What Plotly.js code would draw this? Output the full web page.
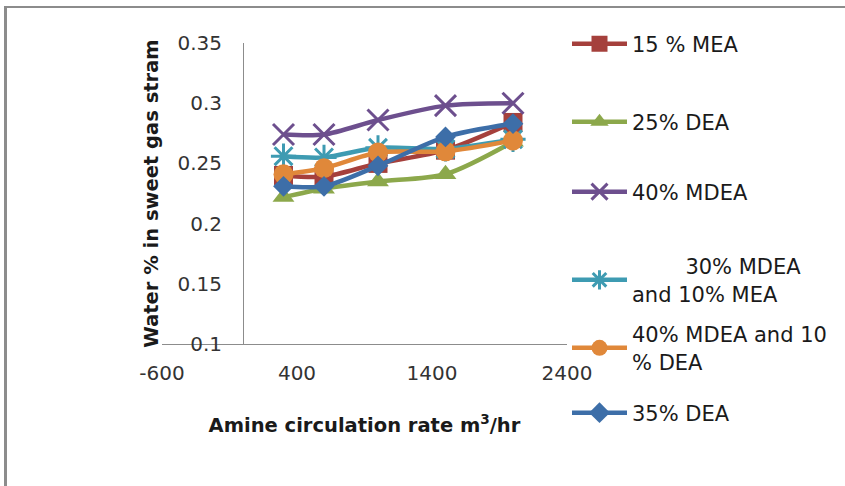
<!DOCTYPE html>
<html>
<head>
<meta charset="utf-8">
<script src="https://cdn.plot.ly/plotly-3.0.1.min.js"></script>
<style>
  html, body { margin: 0; padding: 0; background: #fff; }
  #wrap { position: relative; width: 845px; height: 486px; }
  #chart { width: 845px; height: 486px; }
  #frame { position: absolute; left: 4px; top: 6px; right: 0; bottom: 0;
           border-left: 3px solid #8c8c8c; border-top: 2px solid #8c8c8c;
           pointer-events: none; }
</style>
</head>
<body>
<div id="wrap"><div id="chart"></div><div id="frame"></div></div>
<script>
// Data
const circulationRate = [300, 600, 1000, 1500, 2000];
const mea15        = [0.240, 0.239, 0.250, 0.261, 0.284];
const dea25        = [0.222, 0.229, 0.235, 0.241, 0.268];
const mdea40       = [0.274, 0.274, 0.286, 0.298, 0.300];
const mdea30mea10  = [0.256, 0.255, 0.263, 0.262, 0.270];
const mdea40dea10  = [0.241, 0.246, 0.259, 0.260, 0.269];
const dea35        = [0.231, 0.231, 0.248, 0.272, 0.283];

const seriesNames = [
  "15 % MEA",
  "25% DEA",
  "40% MDEA",
  "\u00A0\u00A0\u00A0\u00A0\u00A0\u00A0\u00A0\u00A030% MDEA<br>and 10% MEA",
  "40% MDEA and 10<br>% DEA",
  "35% DEA"
];
const xTickVals = [-600, 400, 1400, 2400];
const yTickVals = [0.1, 0.15, 0.2, 0.25, 0.3, 0.35];

const FONT = "DejaVu Sans, sans-serif";
const colors  = ["#A5403C", "#8CA84B", "#6D4F8E", "#3E9BB2", "#E0883A", "#3D6EA8"];
const symbols = ["square", "triangle-up", "x-thin-open", "asterisk-open", "circle", "diamond"];
const sizes   = [19, 19, 21, 21, 20, 16];
const values  = [mea15, dea25, mdea40, mdea30mea10, mdea40dea10, dea35];
const legendY = [44, 122, 192, 280, 348, 413];

const traces = values.map((v, i) => ({
  type: "scatter",
  mode: "lines+markers",
  x: circulationRate,
  y: v,
  name: seriesNames[i],
  legend: i === 0 ? "legend" : "legend" + (i + 1),
  line: { color: colors[i], width: 4.5, shape: "spline", smoothing: 0.8 },
  marker: {
    symbol: symbols[i],
    size: sizes[i],
    color: colors[i],
    line: { color: colors[i], width: (symbols[i].indexOf("open") >= 0) ? 3 : 0 }
  }
}));

const W = 845, H = 486;
const layout = {
  width: W, height: H,
  margin: { l: 162, r: 269, t: 43, b: 142 },
  paper_bgcolor: "#ffffff",
  plot_bgcolor: "rgba(0,0,0,0)",
  font: { family: FONT, size: 20, color: "#262626" },
  showlegend: true,
  xaxis: {
    range: [-600, 2400],
    tickmode: "array",
    tickvals: xTickVals,
    ticktext: xTickVals.map(String),
    showgrid: false, zeroline: false,
    showline: true, linecolor: "#8c8c8c", linewidth: 1,
    ticks: "outside", ticklen: 11, tickcolor: "rgba(0,0,0,0)",
    tickfont: { family: FONT, size: 20, color: "#333333" },
    title: { text: "<b>Amine circulation rate m<sup>3</sup>/hr</b>",
             font: { family: FONT, size: 19.5, color: "#1a1a1a" }, standoff: 34 },
    automargin: false
  },
  yaxis: {
    range: [0.1, 0.35],
    tickmode: "array",
    tickvals: yTickVals,
    ticktext: yTickVals.map(String),
    anchor: "free",
    position: 0.2,
    showgrid: false, zeroline: false,
    showline: true, linecolor: "#8c8c8c", linewidth: 1,
    ticks: "outside", ticklen: 17, tickcolor: "rgba(0,0,0,0)",
    tickfont: { family: FONT, size: 20, color: "#333333" },
    title: { text: "<b>Water % in sweet gas stram</b>",
             font: { family: FONT, size: 19.5, color: "#1a1a1a" }, standoff: 12 },
    automargin: false
  }
};

legendY.forEach((py, i) => {
  const key = i === 0 ? "legend" : "legend" + (i + 1);
  layout[key] = {
    xref: "container", yref: "container",
    x: 567 / W, y: 1 - py / H,
    xanchor: "left", yanchor: "middle",
    bgcolor: "rgba(0,0,0,0)", borderwidth: 0,
    itemwidth: 55,
    font: { family: FONT, size: 21, color: "#1a1a1a" }
  };
});

Plotly.newPlot("chart", traces, layout, { staticPlot: true, displayModeBar: false });
</script>
</body>
</html>
